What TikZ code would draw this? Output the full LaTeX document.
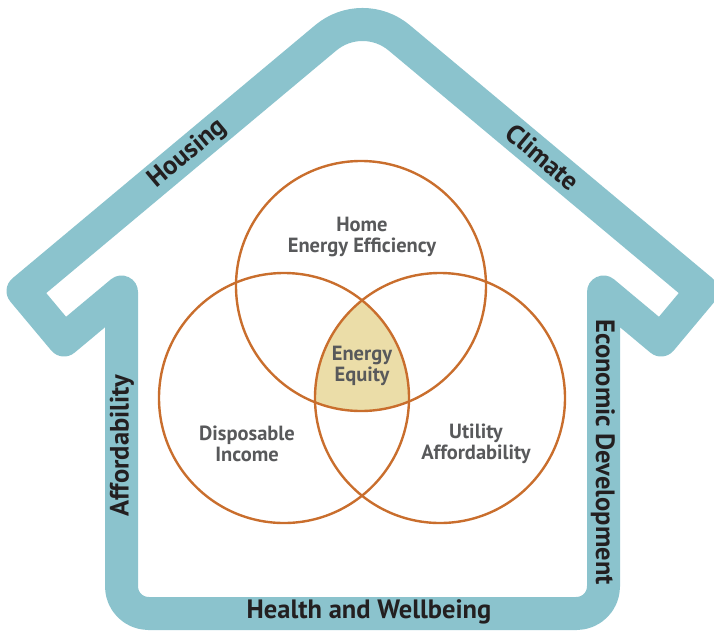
\documentclass[tikz,border=0pt]{standalone}
\usepackage{fontspec}
\setmainfont{PT Sans}
\usetikzlibrary{calc}
\definecolor{houseteal}{RGB}{139,195,205}
\definecolor{ringorange}{RGB}{201,110,45}
\definecolor{equityfill}{RGB}{235,221,168}
\definecolor{ringtext}{RGB}{88,89,91}
\definecolor{housetext}{RGB}{35,31,32}
\tikzset{
  houseline/.style={draw=houseteal,line width=33pt,line join=round},
  ring/.style={draw=ringorange,line width=2.4pt},
  houselabel/.style={font=\bfseries\fontsize{26.5}{28}\selectfont,text=housetext,inner sep=0pt},
  ringlabel/.style={font=\bfseries\fontsize{20.5}{21.5}\selectfont,text=ringtext,align=center,inner sep=0pt}
}
\begin{document}
\begin{tikzpicture}[x=1pt,y=-1pt]
\clip (0,0) rectangle (714,630);

% house outline
\draw[houseline] (121.5,292) -- (121.5,586.5)
   .. controls (121.5,601.4) and (133.6,613.5) .. (148.5,613.5) -- (576.5,613.5)
   .. controls (591.4,613.5) and (603.5,601.4) .. (603.5,586.5)
   -- (603.5,292) -- (661,340) -- (702,291) -- (399.3,37.9)
   .. controls (378,20) and (347,20) .. (325.7,37.9)
   -- (23,291) -- (64,340) -- cycle;

\node[houselabel,rotate=40] (housing) at (188,154) {Housing};
\node[houselabel,rotate=-40] (climate) at (543,157) {Climate};
\node[houselabel,rotate=90] (affordability) at (122,446) {Affordability};
\node[houselabel,rotate=-90] (economic) at (603,452) {Economic Development};
\node[houselabel] (health) at (369,612) {Health and Wellbeing};

% venn
\begin{scope}
  \clip (361,286) circle (125pt);
  \clip (284,398) circle (125pt);
  \fill[equityfill] (440,398) circle (125pt);
\end{scope}
\draw[ring] (361,286) circle (125pt);
\draw[ring] (284,398) circle (125pt);
\draw[ring] (440,398) circle (125pt);

\node[ringlabel] (efficiency) at (362,237) {Home\\Energy Efficiency};
\node[ringlabel] (equity) at (362,366) {Energy\\Equity};
\node[ringlabel] (income) at (247,444) {Disposable\\Income};
\node[ringlabel] (utility) at (476,444) {Utility\\Affordability};
\end{tikzpicture}
\end{document}
